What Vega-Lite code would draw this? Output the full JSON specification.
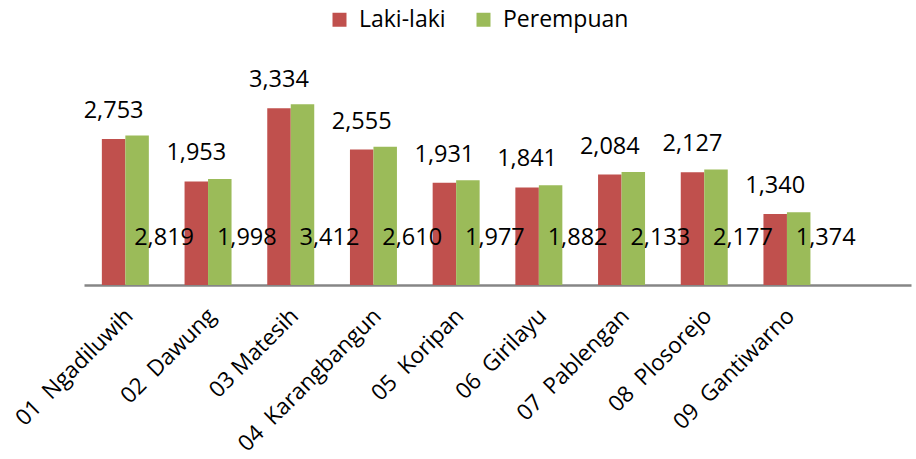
{
  "$schema": "https://vega.github.io/schema/vega-lite/v6.json",
  "width": 827,
  "height": 212,
  "autosize": "none",
  "padding": {"left": 84, "top": 73, "right": 5, "bottom": 174},
  "background": "white",
  "config": {
    "font": "Open Sans",
    "view": {"stroke": null}
  },
  "data": {
    "values": [
      {"kec": "01\u00a0 Ngadiluwih", "jenis": "Laki-laki", "jumlah": 2753},
      {"kec": "01\u00a0 Ngadiluwih", "jenis": "Perempuan", "jumlah": 2819},
      {"kec": "02\u00a0 Dawung", "jenis": "Laki-laki", "jumlah": 1953},
      {"kec": "02\u00a0 Dawung", "jenis": "Perempuan", "jumlah": 1998},
      {"kec": "03 Matesih", "jenis": "Laki-laki", "jumlah": 3334},
      {"kec": "03 Matesih", "jenis": "Perempuan", "jumlah": 3412},
      {"kec": "04\u00a0 Karangbangun", "jenis": "Laki-laki", "jumlah": 2555},
      {"kec": "04\u00a0 Karangbangun", "jenis": "Perempuan", "jumlah": 2610},
      {"kec": "05\u00a0 Koripan", "jenis": "Laki-laki", "jumlah": 1931},
      {"kec": "05\u00a0 Koripan", "jenis": "Perempuan", "jumlah": 1977},
      {"kec": "06\u00a0 Girilayu", "jenis": "Laki-laki", "jumlah": 1841},
      {"kec": "06\u00a0 Girilayu", "jenis": "Perempuan", "jumlah": 1882},
      {"kec": "07\u00a0 Pablengan", "jenis": "Laki-laki", "jumlah": 2084},
      {"kec": "07\u00a0 Pablengan", "jenis": "Perempuan", "jumlah": 2133},
      {"kec": "08\u00a0 Plosorejo", "jenis": "Laki-laki", "jumlah": 2127},
      {"kec": "08\u00a0 Plosorejo", "jenis": "Perempuan", "jumlah": 2177},
      {"kec": "09\u00a0 Gantiwarno", "jenis": "Laki-laki", "jumlah": 1340},
      {"kec": "09\u00a0 Gantiwarno", "jenis": "Perempuan", "jumlah": 1374}
    ]
  },
  "encoding": {
    "x": {
      "field": "kec",
      "type": "nominal",
      "scale": {
        "domain": ["01\u00a0 Ngadiluwih", "02\u00a0 Dawung", "03 Matesih", "04\u00a0 Karangbangun", "05\u00a0 Koripan", "06\u00a0 Girilayu", "07\u00a0 Pablengan", "08\u00a0 Plosorejo", "09\u00a0 Gantiwarno", " "],
        "paddingInner": 0,
        "paddingOuter": 0
      },
      "axis": {
        "title": null,
        "labelAngle": -45,
        "labelAlign": "right",
        "labelBaseline": "middle",
        "labelFontSize": 22.5,
        "labelColor": "#000000",
        "labelPadding": 27,
        "labelOffset": 4,
        "ticks": false,
        "domainColor": "#868686",
        "domainWidth": 2.5,
        "labelOverlap": false,
        "labelLimit": 400
      }
    },
    "xOffset": {
      "field": "jenis",
      "type": "nominal",
      "scale": {"domain": ["Laki-laki", "Perempuan"], "paddingOuter": 0.76, "paddingInner": 0}
    }
  },
  "layer": [
    {
      "mark": {"type": "bar"},
      "encoding": {
        "y": {
          "field": "jumlah",
          "type": "quantitative",
          "scale": {"domain": [0, 4000], "nice": false},
          "axis": null
        },
        "color": {
          "field": "jenis",
          "type": "nominal",
          "scale": {"domain": ["Laki-laki", "Perempuan"], "range": ["#C0504D", "#9BBB59"]},
          "legend": {
            "title": null,
            "orient": "none",
            "legendX": 244,
            "legendY": -65,
            "direction": "horizontal",
            "symbolType": "square",
            "symbolSize": 196,
            "symbolStrokeWidth": 0,
            "labelFontSize": 23,
            "labelOffset": 8,
            "labelColor": "#000000",
            "columnPadding": 26
          }
        }
      }
    },
    {
      "transform": [{"filter": "datum.jenis === 'Laki-laki'"}],
      "mark": {"type": "text", "fontSize": 23.5, "baseline": "middle", "dy": -28, "color": "#000000"},
      "encoding": {
        "y": {"field": "jumlah", "type": "quantitative"},
        "text": {"field": "jumlah", "type": "quantitative", "format": ","}
      }
    },
    {
      "transform": [{"filter": "datum.jenis === 'Perempuan'"}],
      "mark": {"type": "text", "fontSize": 23.5, "baseline": "middle", "dx": 27, "color": "#000000"},
      "encoding": {
        "y": {"datum": 880, "type": "quantitative"},
        "text": {"field": "jumlah", "type": "quantitative", "format": ","}
      }
    }
  ]
}
